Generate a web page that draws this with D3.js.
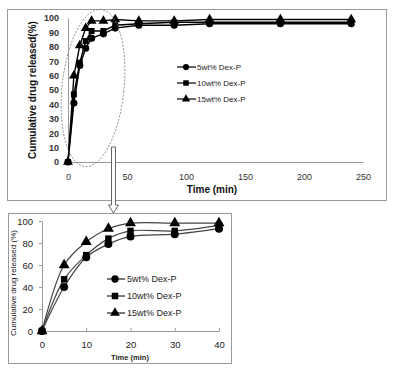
<!DOCTYPE html>
<html><head><meta charset="utf-8">
<script src="https://cdn.jsdelivr.net/npm/d3@7/dist/d3.min.js"></script>
<style>body{margin:0;background:#fff}svg{display:block;font-family:"Liberation Sans",Arial,sans-serif}</style>
</head><body><svg id="c" width="394" height="374"></svg>
<script>
const seriesNames = ["5wt% Dex-P", "10wt% Dex-P", "15wt% Dex-P"];
const symbolsList = ["circle", "square", "triangle"];
const timesFull = [0, 5, 10, 15, 20, 30, 40, 60, 90, 120, 180, 240];
const full5  = [0, 41, 67, 79, 86, 89, 93, 95, 95, 96, 96, 96];
const full10 = [0, 47, 69, 84, 91, 91, 95, 96, 97, 97, 97, 97];
const full15 = [0, 60, 81, 93, 98, 98, 99, 98, 98, 99, 99, 99];
const timesZoom = [0, 5, 10, 15, 20, 30, 40];
const zoom5  = [0, 40, 67, 79, 86, 88, 93];
const zoom10 = [0, 47, 69, 84, 91, 91, 96];
const zoom15 = [0, 60, 81, 93, 98, 98, 98];
const topXTicks = [0, 50, 100, 150, 200, 250];
const topYTicks = [0, 10, 20, 30, 40, 50, 60, 70, 80, 90, 100];
const botXTicks = [0, 10, 20, 30, 40];
const botYTicks = [0, 20, 40, 60, 80, 100];

const svg = d3.select("#c");
const symType = {circle: d3.symbolCircle, square: d3.symbolSquare, triangle: d3.symbolTriangle};

// panel frames
svg.append("rect").attr("x",7.5).attr("y",9.5).attr("width",379).attr("height",191)
  .attr("fill","none").attr("stroke","#999").attr("stroke-width",1);
svg.append("rect").attr("x",8.5).attr("y",213.5).attr("width",223).attr("height",150)
  .attr("fill","none").attr("stroke","#999").attr("stroke-width",1);

// ===== Top chart =====
const xT = d3.scaleLinear().domain([0,250]).range([68,363]);
const yT = d3.scaleLinear().domain([0,100]).range([162,18]);
const gT = svg.append("g");
const axXT = gT.append("g").attr("transform",`translate(0,${yT(0)})`)
  .call(d3.axisBottom(xT).tickValues(topXTicks).tickSize(0).tickPadding(12));
const axYT = gT.append("g").attr("transform",`translate(${xT(0)},0)`)
  .call(d3.axisLeft(yT).tickValues(topYTicks).tickSize(0).tickPadding(9));
[axXT, axYT].forEach(a=>{
  a.select(".domain").attr("stroke","#999");
  a.selectAll("text").attr("font-size",9).attr("fill","#333");
});
axYT.selectAll("text").attr("font-weight","bold");
gT.append("text").attr("x",212).attr("y",193).attr("text-anchor","middle")
  .attr("font-size",10).attr("font-weight","bold").attr("fill","#111").text("Time (min)");
gT.append("text").attr("transform","translate(36,90) rotate(-90)").attr("text-anchor","middle")
  .attr("font-size",10).attr("font-weight","bold").attr("fill","#111").text("Cumulative drug released(%)");

const topData = [full5, full10, full15];
const lineT = d3.line().x((d,i)=>xT(timesFull[i])).y(d=>yT(d));
topData.forEach((s,k)=>{
  gT.append("path").datum(s).attr("d",lineT).attr("fill","none").attr("stroke","#000").attr("stroke-width",1.4);
});
topData.forEach((s,k)=>{
  const sz = k===0?40:(k===1?36:42);
  gT.selectAll(null).data(s).enter().append("path")
    .attr("transform",(d,i)=>`translate(${xT(timesFull[i])},${yT(d)})`)
    .attr("d",d3.symbol().type(symType[symbolsList[k]]).size(sz)).attr("fill","#000");
});
// top legend
const legT = gT.append("g");
seriesNames.forEach((n,k)=>{
  const y = 67 + k*16;
  legT.append("line").attr("x1",177).attr("x2",196).attr("y1",y).attr("y2",y).attr("stroke","#000").attr("stroke-width",1.2);
  legT.append("path").attr("transform",`translate(186,${y})`)
    .attr("d",d3.symbol().type(symType[symbolsList[k]]).size(30)).attr("fill","#000");
  legT.append("text").attr("x",197).attr("y",y).attr("dy","0.35em").attr("font-size",8).attr("fill","#222").text(n);
});
// dashed ellipse
svg.append("ellipse").attr("cx",93).attr("cy",88).attr("rx",31).attr("ry",79)
  .attr("transform","rotate(6,93,88)").attr("fill","none").attr("stroke","#777")
  .attr("stroke-width",0.8).attr("stroke-dasharray","2,1.5");
// hollow arrow
svg.append("path").attr("d","M111.5,147 L115.5,147 L115.5,205 L118.5,205 L113.5,213 L108.5,205 L111.5,205 Z")
  .attr("fill","#fff").attr("stroke","#555").attr("stroke-width",0.9);

// ===== Bottom chart =====
const xB = d3.scaleLinear().domain([0,40]).range([42,219]);
const yB = d3.scaleLinear().domain([0,100]).range([331,221]);
const gB = svg.append("g");
const axXB = gB.append("g").attr("transform",`translate(0,${yB(0)})`)
  .call(d3.axisBottom(xB).tickValues(botXTicks).tickSizeInner(-3).tickSizeOuter(0).tickPadding(10));
const axYB = gB.append("g").attr("transform",`translate(${xB(0)},0)`)
  .call(d3.axisLeft(yB).tickValues(botYTicks).tickSizeInner(3).tickSizeOuter(0).tickPadding(6));
[axXB, axYB].forEach(a=>{
  a.select(".domain").attr("stroke","#999");
  a.selectAll(".tick line").attr("stroke","#999");
  a.selectAll("text").attr("font-size",9.5).attr("fill","#222");
});
gB.append("text").attr("x",130).attr("y",360).attr("text-anchor","middle")
  .attr("font-size",7.5).attr("font-weight","bold").attr("fill","#222").text("Time (min)");
gB.append("text").attr("transform","translate(16,283) rotate(-90)").attr("text-anchor","middle")
  .attr("font-size",8).attr("fill","#222").text("Cumulative drug released (%)");

const botData = [zoom5, zoom10, zoom15];
const lineB = d3.line().curve(d3.curveCatmullRom.alpha(0.5)).x((d,i)=>xB(timesZoom[i])).y(d=>yB(d));
botData.forEach(s=>{
  gB.append("path").datum(s).attr("d",lineB).attr("fill","none").attr("stroke","#444").attr("stroke-width",1.2);
});
botData.forEach((s,k)=>{
  const sz = k===0?50:(k===1?42:52);
  gB.selectAll(null).data(s).enter().append("path")
    .attr("transform",(d,i)=>`translate(${xB(timesZoom[i])},${yB(d)})`)
    .attr("d",d3.symbol().type(symType[symbolsList[k]]).size(sz)).attr("fill","#000");
});
const legB = gB.append("g");
seriesNames.forEach((n,k)=>{
  const y = 279 + k*17;
  legB.append("line").attr("x1",107).attr("x2",125).attr("y1",y).attr("y2",y).attr("stroke","#222").attr("stroke-width",1.2);
  legB.append("path").attr("transform",`translate(115,${y})`)
    .attr("d",d3.symbol().type(symType[symbolsList[k]]).size(42)).attr("fill","#000");
  legB.append("text").attr("x",127).attr("y",y).attr("dy","0.35em").attr("font-size",9).attr("fill","#222").text(n);
});
</script></body></html>
